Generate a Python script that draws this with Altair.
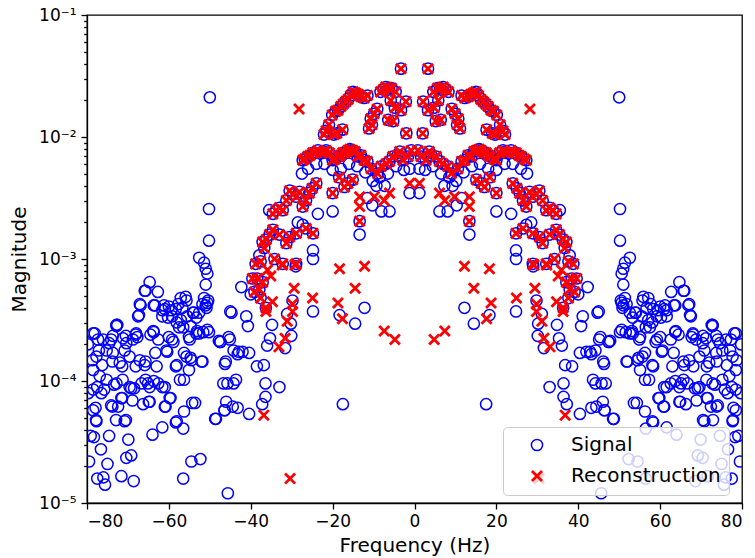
import altair as alt
import pandas as pd

# Values (positive-frequency half; spectrum is symmetric).
# Magnitudes stored as log10 exponents.

# points where Signal (circle) and Reconstruction (x) coincide
both_freq = [3.3, 2.1, 3.3, 4.6, 5.6, 6.2, 7.0, 7.6, 8.3, 5.8, 4.8, 5.2, 6.4, 9.1, 9.9, 10.7, 11.1, 10.4,
             11.5, 12.3, 13.1, 13.8, 14.4, 15.0, 15.6, 16.2, 16.8, 17.4, 18.0, 18.7, 19.3, 20.1, 17.6, 19.0,
             19.7, 20.9, 21.6, 22.1, 2.0,
             0.8, 1.6, 2.8, 3.6, 4.1, 5.3, 6.1, 6.9, 8.1, 9.0, 10.6, 11.5, 12.3, 13.1, 13.9, 14.5, 15.1, 15.8,
             16.3, 17.0, 17.5, 18.1, 18.7, 19.4, 20.0, 20.8, 21.6, 22.2, 22.8, 23.6, 24.2, 24.8, 25.5, 26.1,
             26.8, 27.3,
             24.0, 25.0, 25.7, 26.5, 27.3, 28.1, 28.9, 29.7, 30.5, 31.3, 32.2, 33.0, 33.8, 34.6, 24.8, 26.5,
             28.9, 30.5, 31.3, 33.0, 34.6, 35.4, 36.2, 28.9, 32.2, 34.2, 37.1, 36.7, 37.6, 38.8, 38.4, 39.6,
             37.1, 37.9, 39.1, 37.6, 36.3,
             15.1, 16.3, 17.1, 18.4, 20.0, 13.4]
both_log10 = [-1.44, -1.71, -1.78, -1.63, -1.60, -1.60, -1.59, -1.61, -1.63, -1.70, -1.76, -1.87, -1.86, -1.77,
              -1.81, -1.85, -1.93, -1.90,
              -1.66, -1.68, -1.67, -1.65, -1.64, -1.63, -1.66, -1.69, -1.71, -1.73, -1.75, -1.78, -1.79, -1.82,
              -1.94, -1.97, -1.98, -1.90, -1.95, -1.98, -1.97,
              -2.11, -2.16, -2.19, -2.12, -2.15, -2.16, -2.20, -2.22, -2.24, -2.30, -2.26, -2.20, -2.19, -2.15,
              -2.16, -2.12, -2.11, -2.10, -2.11, -2.13, -2.13, -2.15, -2.16, -2.18, -2.19, -2.13, -2.11, -2.12,
              -2.13, -2.11, -2.13, -2.13, -2.15, -2.16, -2.18, -2.19,
              -2.38, -2.42, -2.46, -2.52, -2.57, -2.45, -2.49, -2.47, -2.44, -2.52, -2.60, -2.58, -2.60, -2.63,
              -2.79, -2.75, -2.79, -2.82, -2.87, -2.80, -2.76, -2.80, -2.84, -3.04, -3.04, -3.00, -2.86, -2.91,
              -3.02, -3.04, -3.16, -3.16, -3.19, -3.25, -3.27, -3.32, -3.40,
              -2.35, -2.38, -2.41, -2.33, -2.46, -2.69]

# Signal only (blue circles)
signal_freq = [1.2, 1.2, 2.6, 4.5, 6.5, 7.3, 8.5, 9.3, 10.2, 12.0, 14.0, 16.0, 18.0, 20.0, 22.0, 24.0, 26.0, 27.5,
               6.1, 8.1, 10.3, 11.5, 13.4, 20.0, 23.6, 27.3, 28.5, 24.8, 24.8,
               12.2, 14.5, 18.3, 24.8, 29.0, 29.8, 31.1, 30.2, 30.1, 31.6, 34.8, 35.3, 36.0, 36.8, 33.0, 36.4,
               37.2, 17.5,
               50.0, 50.2, 50.2, 52.6, 51.4, 51.0, 50.6, 51.0, 51.4, 51.0, 51.8, 64.7, 62.7, 65.9, 66.9, 67.5,
               72.8, 55.9, 57.1, 53.9, 52.6, 55.5, 56.7, 58.3, 60.0, 61.2, 61.6, 63.7, 59.2, 57.5, 54.7, 53.1,
               50.2, 63.7, 64.5, 68.1, 70.5, 73.7, 78.1, 77.3, 60.0, 45.4, 47.8, 42.3, 45.0, 41.1, 40.7, 35.5,
               37.9, 40.0,
               47.4, 40.4, 42.0, 43.2, 46.1, 38.5, 43.6, 45.7, 44.4, 46.4, 43.2, 48.5, 40.4, 36.4,
               50.6, 57.1, 61.6, 67.3, 50.6, 52.6, 55.1, 59.2, 67.7, 72.6, 74.6, 77.1, 51.8, 54.7, 58.3, 55.1,
               60.4, 63.3, 65.7, 68.1, 71.4, 73.8, 76.3, 78.7, 56.3, 61.6, 63.7, 65.7, 68.5, 71.3, 73.4, 75.8,
               77.5, 59.6, 60.8, 64.9, 68.9, 71.4, 73.8, 77.9, 53.6, 56.3, 70.5, 72.9, 77.8, 79.1, 56.3,
               76.6, 75.0, 77.5, 76.0, 75.6, 71.6, 68.6, 70.4, 69.2, 69.9, 74.6, 78.3, 64.0, 61.6, 58.3, 56.5,
               54.3, 54.5, 52.3, 56.5, 48.7, 45.6, 46.4, 46.0,
               78.5, 76.1, 74.1, 72.8, 71.2, 70.4, 68.8, 68.0, 77.7, 75.2, 73.7, 72.0, 70.8, 69.6, 67.1, 65.9,
               78.5, 76.9, 75.2, 72.8, 69.6, 78.5, 76.5, 71.6, 69.2, 66.7, 65.1, 74.1, 72.4, 78.5, 77.7, 70.8,
               66.3, 64.7,
               65.7, 67.1, 63.4, 61.0, 59.4, 57.7, 55.7, 54.1, 53.3, 51.6, 50.4, 50.8, 60.2, 58.1, 56.5, 54.9,
               53.3, 55.7, 54.5, 52.0, 63.8, 62.6, 58.9, 60.6, 58.1, 63.0, 62.6, 61.0, 64.7, 57.3, 59.8, 61.0,
               58.1, 47.5, 45.1, 46.3, 44.2, 42.9, 46.7, 44.2, 44.7,
               79.8, 79.7, 79.5]
signal_log10 = [-2.46, -2.26, -2.27, -2.24, -2.30, -2.40, -2.33, -2.40, -2.36, -2.29, -2.24, -2.22, -2.26, -2.27,
                -2.22, -2.22, -2.26, -2.30,
                -2.61, -2.61, -2.56, -2.50, -2.80, -2.61, -2.63, -2.72, -2.70, -2.93, -3.00,
                -3.40, -3.53, -3.46, -3.43, -3.06, -3.34, -3.45, -3.53, -3.63, -3.73, -3.54, -3.65, -3.71, -3.87,
                -4.05, -4.13, -4.19, -4.19,
                -1.675, -2.59, -2.85, -2.99, -3.03, -3.08, -3.12, -3.21, -3.32, -3.38, -3.37, -3.19, -3.27, -3.26,
                -3.38, -3.47, -3.55, -3.31, -3.32, -3.44, -3.44, -3.47, -3.40, -3.41, -3.39, -3.38, -3.47, -3.38,
                -3.47, -3.56, -3.55, -3.59, -3.60, -3.60, -3.62, -3.62, -3.63, -3.63, -3.61, -3.66, -3.64, -3.64,
                -3.67, -3.23, -3.43, -3.47, -3.55, -2.60, -2.97, -3.29,
                -3.68, -3.77, -3.76, -3.78, -3.84, -3.88, -3.99, -4.02, -4.21, -4.24, -4.22, -4.31, -4.27, -4.02,
                -3.36, -3.50, -3.42, -3.46, -3.58, -3.61, -3.64, -3.66, -3.64, -3.54, -3.69, -3.75, -3.84, -3.81,
                -3.88, -3.91, -3.76, -3.77, -3.84, -3.88, -3.88, -3.84, -3.87, -3.83, -3.99, -4.05, -4.00, -3.99,
                -4.06, -3.99, -4.03, -4.07, -4.05, -4.14, -4.21, -4.17, -4.16, -4.14, -4.21, -4.22, -4.18, -4.25,
                -4.32, -4.32, -4.32, -4.45, -3.77,
                -4.56, -4.68, -4.80, -4.79, -4.85, -4.78, -4.82, -4.63, -4.61, -4.48, -4.45, -4.46, -4.44, -4.38,
                -4.34, -4.39, -4.18, -4.66, -4.64, -4.80, -4.31, -4.92, -4.24, -4.17,
                -3.61, -3.66, -3.66, -3.54, -3.65, -3.69, -3.66, -3.61, -3.80, -3.75, -3.77, -3.85, -3.75, -3.80,
                -3.83, -3.87, -3.91, -3.96, -3.99, -4.02, -4.05, -4.07, -4.10, -4.14, -4.06, -4.02, -4.02, -4.20,
                -4.21, -4.24, -4.33, -4.33, -4.19, -4.17,
                -3.26, -3.37, -3.38, -3.41, -3.42, -3.37, -3.34, -3.44, -3.48, -3.60, -3.34, -3.40, -3.48, -3.52,
                -3.56, -3.66, -3.61, -3.80, -3.83, -3.84, -3.59, -3.66, -3.68, -3.75, -3.87, -3.88, -4.02, -4.05,
                -4.05, -3.99, -4.14, -4.21, -4.33, -3.68, -3.66, -3.86, -3.75, -3.76, -4.02, -4.02, -3.44,
                -3.70, -4.10, -4.66]

# Reconstruction only (red x)
recon_freq = [28.2, 1.2, 13.4, 13.4, 6.1, 7.4, 9.8, 12.2, 18.3, 14.5, 18.7, 24.9, 17.6, 7.4, 4.8, 29.2, 32.3,
              29.4, 29.8, 29.8, 31.1, 31.6, 33.1, 35.1, 35.9, 34.7, 36.3, 36.8, 30.4]
recon_log10 = [-1.77, -2.38, -2.49, -2.57, -2.46, -2.52, -2.49, -3.06, -3.08, -3.24, -3.36, -3.32, -3.49, -3.59,
               -3.66, -3.05, -3.05, -3.24, -3.37, -3.43, -3.51, -3.65, -3.72, -3.14, -3.09, -3.35, -3.43, -4.28,
               -4.80]

series_names = ["Signal", "Reconstruction"]
series_colors = ["#0000ff", "#ff0000"]
x_path = "M-0.9,-0.9L0.9,0.9M-0.9,0.9L0.9,-0.9"

rows = []


def add(name, freqs, logs):
    for f, lg in zip(freqs, logs):
        for sign in (1, -1):
            rows.append({"series": name, "freq": sign * f, "mag": 10.0 ** lg})


add("Signal", both_freq, both_log10)
add("Signal", signal_freq, signal_log10)
add("Reconstruction", both_freq, both_log10)
add("Reconstruction", recon_freq, recon_log10)
df = pd.DataFrame(rows)

y_ticks = []
for e in [-5, -4, -3, -2]:
    for m in range(1, 10):
        y_ticks.append(round(m * 10.0 ** e, 12))
y_ticks.append(0.1)

label_expr = ("datum.value == 0.1 ? '10⁻¹' : datum.value == 0.01 ? '10⁻²' : "
              "datum.value == 0.001 ? '10⁻³' : datum.value == 0.0001 ? '10⁻⁴' : "
              "datum.value == 0.00001 ? '10⁻⁵' : ''")
major_test = "indexof([0.1, 0.01, 0.001, 0.0001, 0.00001], datum.value) >= 0"

legend = alt.Legend(title=None, orient="none", legendX=416, legendY=412)

chart = alt.Chart(df).mark_point(filled=False, size=125, clip=True, opacity=1).encode(
    x=alt.X("freq:Q",
            scale=alt.Scale(domain=[-80, 80], nice=False, zero=False),
            axis=alt.Axis(values=list(range(-80, 81, 20)), title="Frequency (Hz)",
                          titleX=327.5, titleY=48, titleBaseline="alphabetic",
                          tickSize=6, labelPadding=4)),
    y=alt.Y("mag:Q",
            scale=alt.Scale(type="log", domain=[1e-5, 1e-1], nice=False),
            axis=alt.Axis(values=y_ticks, title="Magnitude", labelExpr=label_expr,
                          labelOverlap=False, labelFlush=False,
                          tickSize={"condition": {"test": major_test, "value": 6}, "value": 3.3},
                          labelPadding=5, titleX=-62, titleY=244, titleAngle=-90,
                          titleAlign="center", titleBaseline="alphabetic")),
    color=alt.Color("series:N", scale=alt.Scale(domain=series_names, range=series_colors), legend=legend),
    shape=alt.Shape("series:N", scale=alt.Scale(domain=series_names, range=["circle", x_path]), legend=legend),
    strokeWidth=alt.StrokeWidth("series:N", scale=alt.Scale(type="ordinal", domain=series_names, range=[1.5, 2.8]),
                                legend=legend),
).properties(
    width=655, height=488,
    autosize=alt.AutoSizeParams(type="none"),
    padding={"left": 87, "top": 15, "right": 13, "bottom": 55},
).configure(
    font="DejaVu Sans",
).configure_view(
    stroke="black", strokeWidth=1.3,
).configure_axis(
    grid=False, domainColor="black", domainWidth=1.3, tickColor="black", tickWidth=1.3,
    labelFont="DejaVu Sans", labelFontSize=17, labelColor="black",
    titleFont="DejaVu Sans", titleFontSize=20, titleFontWeight="normal", titleColor="black",
).configure_legend(
    labelFont="DejaVu Sans", labelFontSize=20, labelColor="black",
    fillColor="rgba(255,255,255,0.8)", strokeColor="#cccccc", cornerRadius=4,
    padding=8, rowPadding=10, symbolOffset=16, labelOffset=24, symbolSize=125,
)

chart.save("out.html", embed_options={"renderer": "svg", "actions": False})
